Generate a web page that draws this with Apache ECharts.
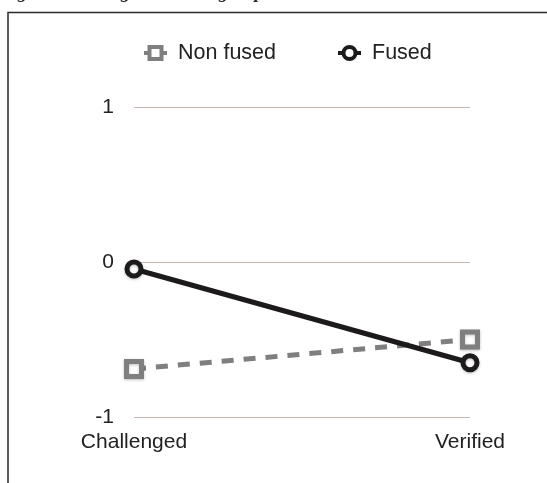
<!DOCTYPE html>
<html>
<head>
<meta charset="utf-8">
<script src="https://cdn.jsdelivr.net/npm/echarts@6/dist/echarts.min.js"></script>
<style>
  html, body { margin: 0; padding: 0; background: #fff; }
  #chart { width: 547px; height: 483px; }
</style>
</head>
<body>
<div id="chart"></div>
<script>
const categories = ['Challenged', 'Verified'];
const nonFused = [-0.69, -0.50];
const fused = [-0.045, -0.65];
const yTicks = [-1, 0, 1];
const titleText = 'Figure 3. Change status Stag Grp';

const chart = echarts.init(document.getElementById('chart'), null, { renderer: 'canvas' });
const font = '"Liberation Sans", Arial, Helvetica, sans-serif';

chart.setOption({
  animation: false,
  backgroundColor: '#fff',
  graphic: [
    {
      type: 'rect',
      shape: { x: 8, y: 12.5, width: 700, height: 700 },
      style: { fill: 'none', stroke: '#2a2a2a', lineWidth: 1.5 },
      silent: true
    },
    {
      type: 'text',
      left: 0,
      top: -16,
      style: {
        text: titleText,
        font: 'italic bold 19px "Liberation Serif", "DejaVu Serif", serif',
        fill: '#222'
      },
      silent: true
    }
  ],
  legend: {
    left: 137,
    top: 37,
    itemWidth: 23,
    itemHeight: 15,
    itemGap: 60,
    textStyle: { fontFamily: font, fontSize: 21.5, color: '#222', lineHeight: 22, padding: [0, 0, 0, 6] },
    data: [
      { name: 'Non fused', itemStyle: { color: '#fff', borderColor: '#7f7f80', borderWidth: 4 }, lineStyle: { color: '#7f7f80', width: 4, type: 'solid' } },
      { name: 'Fused', itemStyle: { color: '#fff', borderColor: '#1c1a1a', borderWidth: 4 }, lineStyle: { color: '#1c1a1a', width: 4, type: 'solid' } }
    ]
  },
  grid: { left: 134, right: 77, top: 107, bottom: 66 },
  xAxis: {
    type: 'category',
    data: categories,
    boundaryGap: false,
    axisLine: { show: false },
    axisTick: { show: false },
    axisLabel: { fontFamily: font, fontSize: 21, color: '#222', margin: 15 },
    splitLine: { show: false }
  },
  yAxis: {
    type: 'value',
    min: -1,
    max: 1,
    interval: 1,
    axisLine: { show: false },
    axisTick: { show: false },
    axisLabel: {
      fontFamily: font, fontSize: 21, color: '#222', margin: 20,
      formatter: v => (yTicks.indexOf(v) >= 0 ? String(v) : '')
    },
    splitLine: { lineStyle: { color: '#c6b9b4', width: 1 } }
  },
  series: [
    {
      name: 'Non fused',
      type: 'line',
      data: nonFused,
      symbol: 'rect',
      symbolSize: 15,
      lineStyle: { color: '#7f7f80', width: 5, type: [12, 10] },
      itemStyle: { color: '#fff', borderColor: '#7f7f80', borderWidth: 5, shadowBlur: 3, shadowColor: 'rgba(0,0,0,0.25)', shadowOffsetY: 1 },
      z: 2
    },
    {
      name: 'Fused',
      type: 'line',
      data: fused,
      symbol: 'circle',
      symbolSize: 14,
      lineStyle: { color: '#1c1a1a', width: 5 },
      itemStyle: { color: '#fff', borderColor: '#1c1a1a', borderWidth: 5, shadowBlur: 3, shadowColor: 'rgba(0,0,0,0.25)', shadowOffsetY: 1 },
      z: 3
    }
  ]
});
</script>
</body>
</html>
